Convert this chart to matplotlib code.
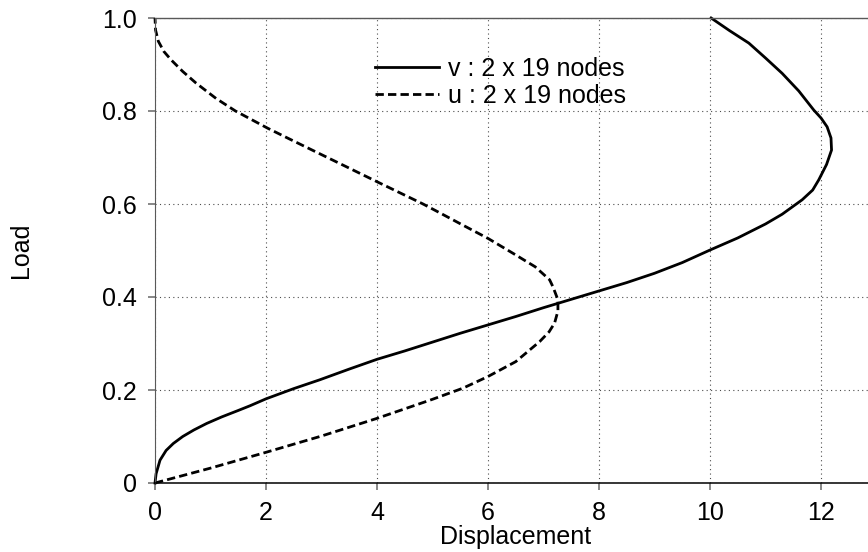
import matplotlib
matplotlib.use("Agg")
import matplotlib.pyplot as plt

plt.rcParams['font.family'] = ['Liberation Sans', 'DejaVu Sans']

# values (load on y, displacement on x)
v_load = [0, 0.02, 0.049, 0.07, 0.085, 0.1, 0.114, 0.128, 0.142, 0.156, 0.166, 0.181,
          0.203, 0.222, 0.245, 0.266, 0.284, 0.303, 0.322, 0.34, 0.358, 0.377, 0.395,
          0.413, 0.431, 0.451, 0.474, 0.501, 0.527, 0.557, 0.578, 0.609, 0.63, 0.652,
          0.685, 0.716, 0.742, 0.766, 0.785, 0.802, 0.843, 0.881, 0.914, 0.946, 0.973, 1.0]
v_disp = [0, 0.02, 0.09, 0.2, 0.33, 0.5, 0.7, 0.93, 1.2, 1.5, 1.71, 2.0,
          2.5, 2.97, 3.5, 4.0, 4.5, 5.0, 5.5, 6.0, 6.5, 7.0, 7.5,
          8.0, 8.5, 9.0, 9.5, 10.0, 10.5, 11.0, 11.3, 11.66, 11.85, 11.96,
          12.1, 12.19, 12.18, 12.11, 12.0, 11.87, 11.6, 11.3, 11.0, 10.7, 10.35, 10.02]

u_load = [0, 0.032, 0.066, 0.101, 0.139, 0.18, 0.204, 0.229, 0.261, 0.304, 0.325, 0.344,
          0.37, 0.394, 0.422, 0.437, 0.465, 0.494, 0.526, 0.555, 0.583, 0.6, 0.645,
          0.68, 0.712, 0.74, 0.763, 0.8, 0.827, 0.86, 0.885, 0.91, 0.928, 0.95, 0.974, 1.0]
u_disp = [0, 1.0, 2.0, 3.0, 4.0, 5.0, 5.55, 6.0, 6.5, 6.93, 7.1, 7.2,
          7.26, 7.26, 7.17, 7.11, 6.85, 6.45, 6.0, 5.54, 5.1, 4.83, 4.05,
          3.45, 2.9, 2.42, 2.03, 1.45, 1.1, 0.74, 0.5, 0.29, 0.16, 0.06, 0.01, 0.0]

labels = ['v : 2 x 19 nodes', 'u : 2 x 19 nodes']
x_ticks = [0, 2, 4, 6, 8, 10, 12]
y_ticks = [0, 0.2, 0.4, 0.6, 0.8, 1.0]
y_ticklabels = ['0', '0.2', '0.4', '0.6', '0.8', '1.0']

W, H = 868, 552
fig = plt.figure(figsize=(W / 100, H / 100), dpi=100)
ax = fig.add_axes([155 / W, 1 - 483 / H, 721.5 / W, 465 / H])

ax.plot(v_disp, v_load, color='black', lw=2.0, label=labels[0], clip_on=False)
ax.plot(u_disp, u_load, color='black', lw=2.0, linestyle=(0, (3, 1.5)),
        label=labels[1], clip_on=False)

ax.set_xlim(0, 13)
ax.set_ylim(0, 1.0)
ax.set_xticks(x_ticks)
ax.set_yticks(y_ticks)
ax.set_yticklabels(y_ticklabels)

ax.grid(True, color='0.3', lw=0.8, linestyle=(0, (1, 3)))
ax.set_axisbelow(True)
ax.tick_params(direction='out', length=5, width=1.2, color='0.45',
               labelsize=18, pad=8)

ax.spines['right'].set_visible(False)
ax.spines['top'].set_color('0.35')
ax.spines['top'].set_linestyle((0, (1, 1)))
ax.spines['top'].set_linewidth(1.0)
ax.spines['left'].set_color('0.35')
ax.spines['left'].set_linewidth(0.8)
ax.spines['bottom'].set_color('black')
ax.spines['bottom'].set_linewidth(1.1)

fig.text(516 / W, 1 - 537 / H, 'Displacement', ha='center', va='center', fontsize=18)
fig.text(21 / W, 1 - 250 / H, 'Load', ha='center', va='center', rotation=90, fontsize=18)

ax.legend(loc='upper left', bbox_to_anchor=(375 / W, 1 - 57 / H),
          bbox_transform=fig.transFigure, frameon=False, fontsize=18,
          borderpad=0, borderaxespad=0, handlelength=2.55, handletextpad=0.36,
          labelspacing=0.12)

fig.savefig('out.png', dpi=100)
